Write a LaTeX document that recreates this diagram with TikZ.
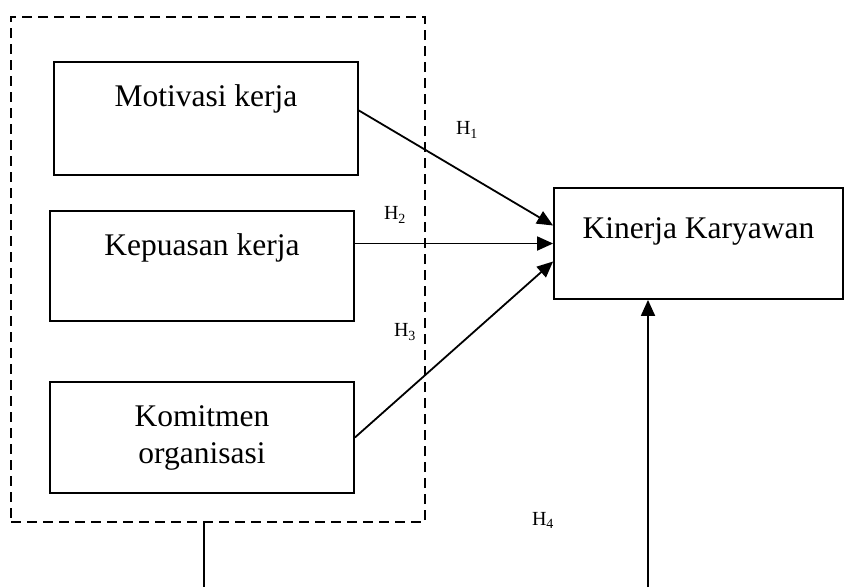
\documentclass[tikz,border=0pt]{standalone}
\usepackage{fontspec}
\setmainfont{Liberation Serif}
\usetikzlibrary{arrows.meta}
\begin{document}
\begin{tikzpicture}[x=1pt,y=-1pt,
  kotak/.style={draw,line width=1.8pt,inner sep=0pt,font=\fontsize{31.5}{37}\selectfont},
  garis/.style={line width=1.8pt,-{Triangle[length=16pt,width=14pt]}},
  hipo/.style={inner sep=0pt,font=\fontsize{20}{22}\selectfont}]
\useasboundingbox (0,0) rectangle (846,587);
\node [draw,dash pattern=on 10pt off 6pt,line width=1.8pt,minimum width=414pt,minimum height=505pt] (grup) at (218,269.5) {};
\node [kotak,minimum width=304pt,text height=44pt,text depth=69pt] (motivasi) at (206,118.5) {Motivasi kerja};
\node [kotak,minimum width=304pt,text height=44pt,text depth=66pt] (kepuasan) at (202,266) {Kepuasan kerja};
\node [kotak,minimum width=304pt,minimum height=111pt,align=center] (komitmen) at (202,437.5) {Komitmen\\organisasi};
\node [kotak,minimum width=289pt,text height=50pt,text depth=61pt] (kinerja) at (698.5,243.5) {Kinerja Karyawan};
\node [hipo] (h1) at (467,130) {H\textsubscript{1}};
\node [hipo] (h2) at (395,215) {H\textsubscript{2}};
\node [hipo] (h3) at (405,332) {H\textsubscript{3}};
\node [hipo] (h4) at (543,520) {H\textsubscript{4}};
\draw [garis] ([yshift=8pt]motivasi.east) -- ([yshift=18pt]kinerja.west);
\draw [garis] (kepuasan.east |- kinerja.west) -- (kinerja.west);
\draw [garis] (komitmen.east) -- ([yshift=-18pt]kinerja.west);
\coordinate (kiri) at (204,587);
\coordinate (kanan) at (648,587);
\draw [line width=1.8pt] (kiri |- grup.south) -- (kiri);
\draw [garis] (kanan) -- (kanan |- kinerja.south);
\end{tikzpicture}
\end{document}
